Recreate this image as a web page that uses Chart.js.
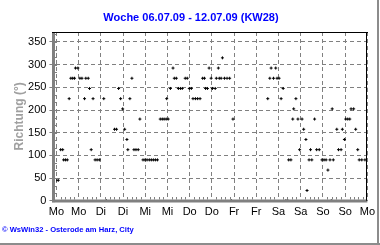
<!DOCTYPE html>
<html><head><meta charset="utf-8">
<script src="https://cdn.jsdelivr.net/npm/chart.js@4"></script>
<style>html,body{margin:0;padding:0;background:#fff;}#wrap{width:380px;height:245px;}</style>
</head><body><div id="wrap"><canvas id="c" width="380" height="245"></canvas></div>
<script>
const titleText = 'Woche 06.07.09 - 12.07.09 (KW28)';
const yAxisTitle = 'Richtung (°)';
const footerText = '© WsWin32 - Osterode am Harz, City';
const dayLabels = ['Mo','Mo','Di','Di','Mi','Mi','Do','Do','Fr','Fr','Sa','Sa','So','So','Mo'];
const yTicks = [0,50,100,150,200,250,300,350];
const hours = [0,1,2.3,3.4,3.9,4.9,5.9,6.9,7.8,8.8,9.8,10.3,11.6,12.7,13.8,15.2,15.9,17.2,17.9,18.8,19.8,20.9,22,23.2,25.6,27,
31.4,32.5,33.6,34.7,35.8,36.9,38.1,38.6,39.7,40.8,41.9,43,44.2,45.1,46.8,47.9,49,50.2,51.3,52.4,53.5,54.6,
56.1,57.2,58.2,59.3,59.6,60.4,61.6,63,63.7,64.8,65.9,67,68,69.6,70.7,71.8,72.9,73.8,75.1,76.3,77.6,
79,80,80.6,81.6,82.5,83.6,84.3,85.8,86.4,87.5,88,89,89.7,90.8,92.2,93.6,94.5,95.4,
114.2,115.3,116,117.3,118.5,119.2,120.3,121.4,122.5,124,125,125.5,126.7,127.7,128.2,129.4,130.5,131.4,132.7,133.6,134.8,135.4,
136.5,137.3,138,139.5,140.6,142,143.5,144.6,145.7,146.7,147.8,148.5,149,149.6,151.5,152.4,153.8,154.5,155.6,156.3,157.4,158.5,
159.2,160.6,161.7,162.8,163.6,165,166.7];
const directions = [45,45,112.5,112.5,90,90,90,225,270,270,270,292.5,292.5,270,270,225,270,270,247.5,112.5,225,90,90,90,225,0,
157.5,157.5,247.5,225,202.5,157.5,135,112.5,225,270,112.5,112.5,112.5,180,90,90,90,90,90,90,90,90,
180,180,180,180,225,180,247.5,292.5,270,270,247.5,247.5,247.5,270,270,247.5,247.5,225,225,225,225,
270,270,247.5,247.5,292.5,270,247.5,247.5,270,292.5,270,270,315,270,270,270,0,180,
225,270,292.5,270,292.5,270,270,225,247.5,0,0,90,90,180,202.5,225,180,112.5,180,157.5,135,22.5,
90,112.5,90,180,112.5,112.5,90,90,90,67.5,90,0,202.5,90,157.5,112.5,112.5,157.5,135,180,180,180,
202.5,202.5,157.5,112.5,90,90,90];

const FONT = "'Liberation Sans', Arial, sans-serif";

const framePlugin = {
  id: 'frame',
  afterDatasetsDraw(chart) {
    const {ctx, chartArea: a, scales: {x, y}} = chart;
    ctx.save();
    ctx.fillStyle = '#808080';
    ctx.fillRect(52, a.top, 3, a.bottom - a.top + 1.5);
    ctx.fillRect(52, Math.round(a.bottom) - 1.5, a.right - 52, 3);
    for (let i = 1; i < 70; i++) {
      if (i % 5 === 0) continue;
      const px = Math.round(x.getPixelForValue(i * 2.4));
      ctx.fillRect(px, Math.round(a.bottom) - 4, 1, 2.5);
    }
    for (let v = 0; v <= 372; v += 50 / 3) {
      const py = Math.round(y.getPixelForValue(v));
      ctx.fillRect(55, py, 2, 1);
    }
    ctx.fillStyle = '#000';
    ctx.fillRect(52, Math.round(a.top), Math.round(a.right) - 52 + 1, 1);
    ctx.fillRect(Math.round(a.right) - 1, Math.round(a.top), 1, a.bottom - a.top);
    ctx.restore();
  },
  afterDraw(chart) {
    const {ctx} = chart;
    ctx.save();
    ctx.fillStyle = '#0000ff';
    ctx.textAlign = 'center';
    ctx.textBaseline = 'middle';
    ctx.font = 'bold 11px ' + FONT;
    ctx.fillText(titleText, 191, 18);
    ctx.textAlign = 'left';
    ctx.font = 'bold 7.6px ' + FONT;
    ctx.fillText(footerText, 2, 230);
    ctx.fillStyle = '#8c8c8c';
    ctx.fillRect(377, 0, 2, 245);
    ctx.fillRect(0, 243, 380, 2);
    ctx.restore();
  }
};

new Chart(document.getElementById('c'), {
  type: 'scatter',
  data: {
    datasets: [{
      data: hours.map((h, i) => ({x: h, y: directions[i]})),
      pointStyle: 'cross',
      pointRadius: 1.5,
      pointHoverRadius: 1.5,
      borderColor: '#000',
      backgroundColor: '#000',
      borderWidth: 1
    }]
  },
  options: {
    responsive: false,
    animation: false,
    events: [],
    layout: {padding: {left: 0, right: 11, top: 32, bottom: 0}},
    plugins: {legend: {display: false}, tooltip: {enabled: false}, title: {display: false}},
    scales: {
      x: {
        type: 'linear', min: 0, max: 168,
        afterFit(s) { s.height = 44.3; },
        afterBuildTicks(s) { s.ticks = dayLabels.map((_, i) => ({value: i * 12})); },
        ticks: {autoSkip: false, maxRotation: 0, padding: 5, color: '#000', font: {family: FONT, size: 11},
          callback: (v) => dayLabels[Math.round(v / 12)]},
        grid: {color: '#808080', lineWidth: 1, drawTicks: false},
        border: {display: false, dash: [4, 3]}
      },
      y: {
        type: 'linear', min: 0, max: 372,
        afterFit(s) { s.width = 56.4; },
        afterBuildTicks(s) { s.ticks = yTicks.map(v => ({value: v})); },
        ticks: {padding: 3, color: '#000', font: {family: FONT, size: 11}},
        grid: {color: '#808080', drawTicks: true, tickLength: 7, tickColor: '#808080'},
        border: {display: false, dash: [4, 3]},
        title: {display: true, text: yAxisTitle, color: '#a0a0a0',
          font: {family: FONT, size: 12, weight: 'bold'}, padding: {top: 12, bottom: 0}}
      }
    }
  },
  plugins: [framePlugin]
});
</script></body></html>
